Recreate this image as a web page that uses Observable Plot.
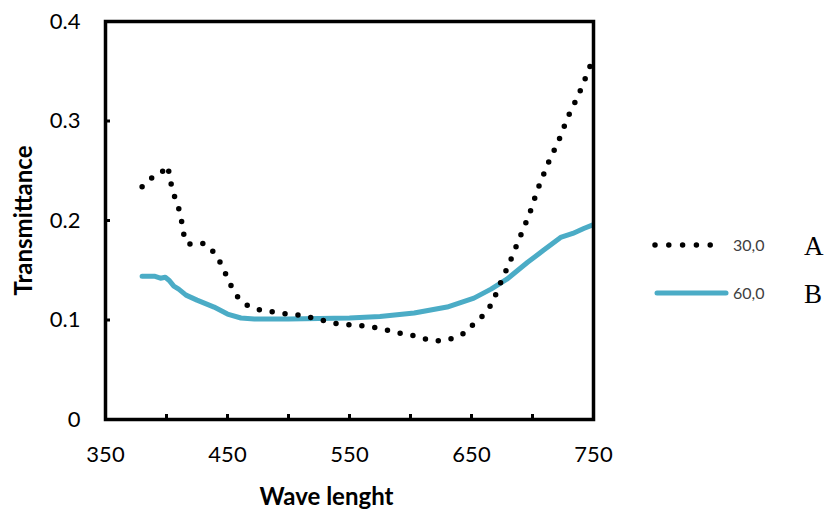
<!DOCTYPE html>
<html>
<head>
<meta charset="utf-8">
<script src="https://cdn.jsdelivr.net/npm/d3@7"></script>
<script src="https://cdn.jsdelivr.net/npm/@observablehq/plot@0.6"></script>
<style>
  body { margin: 0; background: #fff; }
  #wrap { position: relative; width: 827px; height: 514px; }
  #wrap svg { position: absolute; left: 0; top: 0; }
</style>
</head>
<body>
<div id="wrap"></div>
<script>
const waveA = [380,388,395,401,403,405,409,411.5,413.5,415,420,431,439,444.5,449,453.5,459,467,477,488,499,509,520,530,541,552,562,573,584,594,604,615,625,636,646,653,661,667,671,675,680,684,688,692,696,700,703,707,711,715,720,724,728,732,737,741,745,750];
const transA = [0.234,0.243,0.247,0.255,0.242,0.229,0.217,0.205,0.192,0.179,0.176,0.177,0.168,0.157,0.145,0.133,0.122,0.114,0.110,0.108,0.106,0.105,0.102,0.099,0.096,0.095,0.094,0.092,0.089,0.086,0.084,0.080,0.079,0.082,0.088,0.098,0.106,0.117,0.129,0.141,0.154,0.166,0.178,0.190,0.202,0.215,0.227,0.240,0.252,0.264,0.276,0.288,0.301,0.312,0.324,0.336,0.348,0.364];

const waveB = [380,390,395,399,402,406,410,416,425,439,450,461,472,500,525,550,575,603,630,652,666,679,696,709,723,733,742,750];
const transB = [0.144,0.144,0.142,0.143,0.140,0.134,0.131,0.125,0.120,0.113,0.106,0.102,0.101,0.101,0.1015,0.102,0.1035,0.107,0.113,0.122,0.131,0.141,0.158,0.170,0.183,0.187,0.192,0.196];

const xLabelTicks = [350,450,550,650,750];
const xMinorTicks = [350,400,450,500,550,600,650,700,750];
const yTicks = [0,0.1,0.2,0.3,0.4];
const yTickLabels = ["0","0.1","0.2","0.3","0.4"];

const legendNames = ["30,0","60,0"];
const legendLetters = ["A","B"];

const blue = "#4BACC6";

const dataA = waveA.map((w,i) => ({w, t: transA[i]}));
const dataB = waveB.map((w,i) => ({w, t: transB[i]}));

const chart = Plot.plot({
  width: 827,
  height: 514,
  marginLeft: 105,
  marginRight: 234,
  marginTop: 21,
  marginBottom: 95,
  style: {fontFamily: "Lato, sans-serif", background: "transparent"},
  x: {domain: [350, 750]},
  y: {domain: [0, 0.4]},
  marks: [
    Plot.axisX({ticks: xMinorTicks, tickSize: -5, tickFormat: () => "", strokeWidth: 3, stroke: "black", label: null}),
    Plot.axisX({ticks: xLabelTicks, tickSize: 0, tickPadding: 27, tickFormat: d => String(d), fontSize: 22, fill: "black", label: null}),
    Plot.axisY({ticks: yTicks, tickSize: -5, tickPadding: 30, tickFormat: (d,i) => yTickLabels[i], fontSize: 22, fill: "black", strokeWidth: 3, stroke: "black", label: null}),
    Plot.text(["Wave lenght"], {frameAnchor: "bottom", lineAnchor: "middle", dy: 78, dx: -23, fontSize: 24, fontWeight: "bold", fill: "black"}),
    Plot.text(["Transmittance"], {frameAnchor: "left", textAnchor: "middle", lineAnchor: "middle", dx: -81, rotate: -90, fontSize: 24, fontWeight: "bold", fill: "black"}),
    Plot.line(dataB, {x: "w", y: "t", stroke: blue, strokeWidth: 5, strokeLinecap: "round", strokeLinejoin: "round", clip: true}),
    Plot.line(dataA, {x: "w", y: "t", stroke: "black", strokeWidth: 5.5, strokeDasharray: "0,13", strokeLinecap: "round", clip: true}),
    Plot.frame({stroke: "black", strokeWidth: 3.5})
  ]
});
document.getElementById("wrap").appendChild(chart);

// legend overlay
const leg = d3.select("#wrap").append("svg").attr("width", 827).attr("height", 514).style("pointer-events", "none");
const rows = [245, 293];
legendNames.forEach((name, i) => {
  const y = rows[i];
  const g = leg.append("g");
  if (i === 0) {
    g.append("line").attr("x1", 655).attr("x2", 724).attr("y1", y).attr("y2", y)
      .attr("stroke", "black").attr("stroke-width", 5.5).attr("stroke-linecap", "round").attr("stroke-dasharray", "0,13.8");
  } else {
    g.append("line").attr("x1", 657).attr("x2", 726).attr("y1", y).attr("y2", y)
      .attr("stroke", blue).attr("stroke-width", 5).attr("stroke-linecap", "round");
  }
  g.append("text").attr("x", 733).attr("y", y).attr("dy", "0.35em")
    .attr("font-family", "Lato, sans-serif").attr("font-size", 16).attr("fill", "#404040").text(name);
  g.append("text").attr("x", 804).attr("y", y + 10)
    .attr("font-family", "'Liberation Serif', 'DejaVu Serif', serif").attr("font-size", 27).attr("fill", "black").text(legendLetters[i]);
});
</script>
</body>
</html>
